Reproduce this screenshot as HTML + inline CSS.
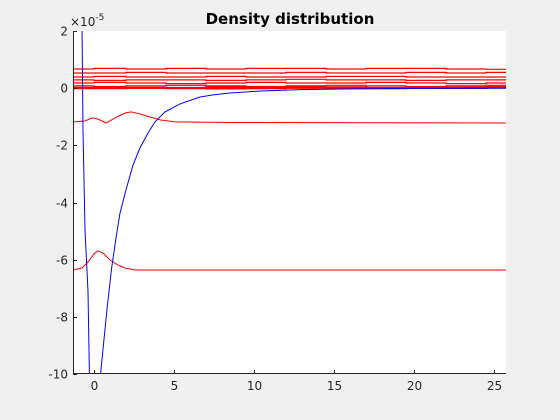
<!DOCTYPE html>
<html><head><meta charset="utf-8">
<style>
html,body{margin:0;padding:0;background:#f0f0f0;}
svg{display:block;font-family:"DejaVu Sans","Liberation Sans",sans-serif;}
</style></head>
<body>
<svg id="chart" width="560" height="420">
<rect x="0" y="0" width="560" height="420" fill="#f0f0f0"/>
<rect x="73" y="31" width="433" height="343" fill="#fff"/>
<g id="series"></g>
<g id="axes"></g>
<text x="290" y="24" text-anchor="middle" font-weight="bold" font-size="15" fill="#000">Density distribution</text>
<text x="70" y="26" font-size="12" fill="#262626">×10<tspan dy="-6" font-size="9">-5</tspan></text>
</svg>
<script>
const xTicks=[0,5,10,15,20,25];
const yTicks=[2,0,-2,-4,-6,-8,-10];
const blueSteep=[[-0.75,2.2],[-0.69,-1.46],[-0.56,-4.96],[-0.375,-7.1],[-0.28,-10.2]];
const blueRise=[[0.375,-10.2],[0.8,-7.8],[1.1,-6.3],[1.375,-5.24],[1.625,-4.37],[2.0,-3.56],[2.44,-2.69],[2.875,-2.09],[3.375,-1.57],[3.81,-1.18],[4.44,-0.83],[5.375,-0.55],[6.625,-0.31],[7.5,-0.23],[8.5,-0.17],[10.4,-0.1],[12.9,-0.05],[16,-0.025],[19.1,-0.01],[25.75,0]];
const redWave1=[[-1.31,-1.18],[-0.56,-1.15],[-0.125,-1.04],[0.25,-1.08],[0.75,-1.22],[1.31,-1.04],[1.94,-0.87],[2.31,-0.83],[2.875,-0.9],[3.5,-1.01],[4.125,-1.11],[5.06,-1.18],[8.5,-1.2],[25.75,-1.22]];
const redWave2=[[-1.31,-6.36],[-0.75,-6.29],[-0.375,-6.08],[0,-5.8],[0.25,-5.69],[0.56,-5.77],[1.0,-6.01],[1.5,-6.19],[1.94,-6.29],[2.56,-6.36],[25.75,-6.36]];
const stepBreaks=[-1.31,0,2,4.5,7,9.5,12,14.5,17,19.5,22,24.5,25.75];
const stepLevels=[
[0.67,0.69,0.67,0.69,0.67,0.69,0.69,0.67,0.69,0.69,0.67,0.66],
[0.53,0.53,0.55,0.53,0.53,0.53,0.55,0.53,0.53,0.55,0.53,0.55],
[0.39,0.41,0.39,0.39,0.41,0.39,0.39,0.41,0.41,0.39,0.39,0.39],
[0.29,0.27,0.29,0.29,0.27,0.29,0.31,0.29,0.29,0.27,0.29,0.29],
[0.18,0.20,0.18,0.16,0.18,0.20,0.18,0.18,0.20,0.18,0.16,0.18],
[0.08,0.06,0.08,0.10,0.08,0.06,0.08,0.10,0.08,0.06,0.08,0.10],
[0.01,0.03,0.01,0.01,0.03,0.01,0.03,0.03,0.01,0.03,0.01,0.03],
[0.00,0.00,0.01,0.00,-0.01,0.00,0.01,0.00,0.00,0.01,0.02,0.04]
];
const X0=73,X1=506,Y0=31,Y1=374,xmin=-1.3125,xmax=25.75,ymin=-10,ymax=2;
function sx(v){return X0+(v-xmin)/(xmax-xmin)*(X1-X0);}
function sy(v){return Y1-(v-ymin)/(ymax-ymin)*(Y1-Y0);}
const NS="http://www.w3.org/2000/svg";
const series=document.getElementById('series');
const axes=document.getElementById('axes');
const clip=document.createElementNS(NS,'clipPath');clip.setAttribute('id','pc');
const cr=document.createElementNS(NS,'rect');cr.setAttribute('x',X0);cr.setAttribute('y',Y0);cr.setAttribute('width',X1-X0);cr.setAttribute('height',Y1-Y0);
clip.appendChild(cr);document.getElementById('chart').appendChild(clip);
series.setAttribute('clip-path','url(#pc)');
function poly(pts,color,name,w){
  const p=document.createElementNS(NS,'polyline');
  p.setAttribute('points',pts.map(q=>sx(q[0]).toFixed(1)+','+sy(q[1]).toFixed(1)).join(' '));
  p.setAttribute('fill','none');p.setAttribute('stroke',color);p.setAttribute('stroke-width',w||1);
  
  
  series.appendChild(p);
}
stepLevels.forEach((lv,i)=>{
  const pts=[];
  lv.forEach((v,j)=>{pts.push([stepBreaks[j],v]);pts.push([stepBreaks[j+1],v]);});
  poly(pts,'#ff0000','red-step-line-'+(i+1),i>=6?2:1.2);
});
poly(redWave1,'#ff0000','red-wave-line-1');
poly(redWave2,'#ff0000','red-wave-line-2');
poly(blueSteep,'#0000ff','blue-steep-line');
poly(blueRise,'#0000ff','blue-rising-line');
function line(x1,y1,x2,y2,name){
  const l=document.createElementNS(NS,'line');
  l.setAttribute('x1',x1);l.setAttribute('y1',y1);l.setAttribute('x2',x2);l.setAttribute('y2',y2);
  l.setAttribute('stroke','#262626');l.setAttribute('stroke-width',1);
  
  
  axes.appendChild(l);
}
function text(x,y,s,anchor,name){
  const t=document.createElementNS(NS,'text');
  t.setAttribute('x',x);t.setAttribute('y',y);t.setAttribute('text-anchor',anchor);
  t.setAttribute('font-size','12');t.setAttribute('fill','#262626');t.textContent=s;
  
  
  axes.appendChild(t);
}
line(X0+0.5,Y0,X0+0.5,Y1,'y-axis-line');
line(X0,Y1-0.5,X1,Y1-0.5,'x-axis-line');
xTicks.forEach(v=>{const x=Math.round(sx(v))+0.5;line(x,Y1,x,Y1-4,'x-tick');text(x,Y1+16,String(v),'middle','x-tick-label');});
yTicks.forEach(v=>{const y=Math.round(sy(v))+0.5;line(X0,y,X0+4,y,'y-tick');text(X0-5,y+4,String(v),'end','y-tick-label');});
</script>
</body></html>
